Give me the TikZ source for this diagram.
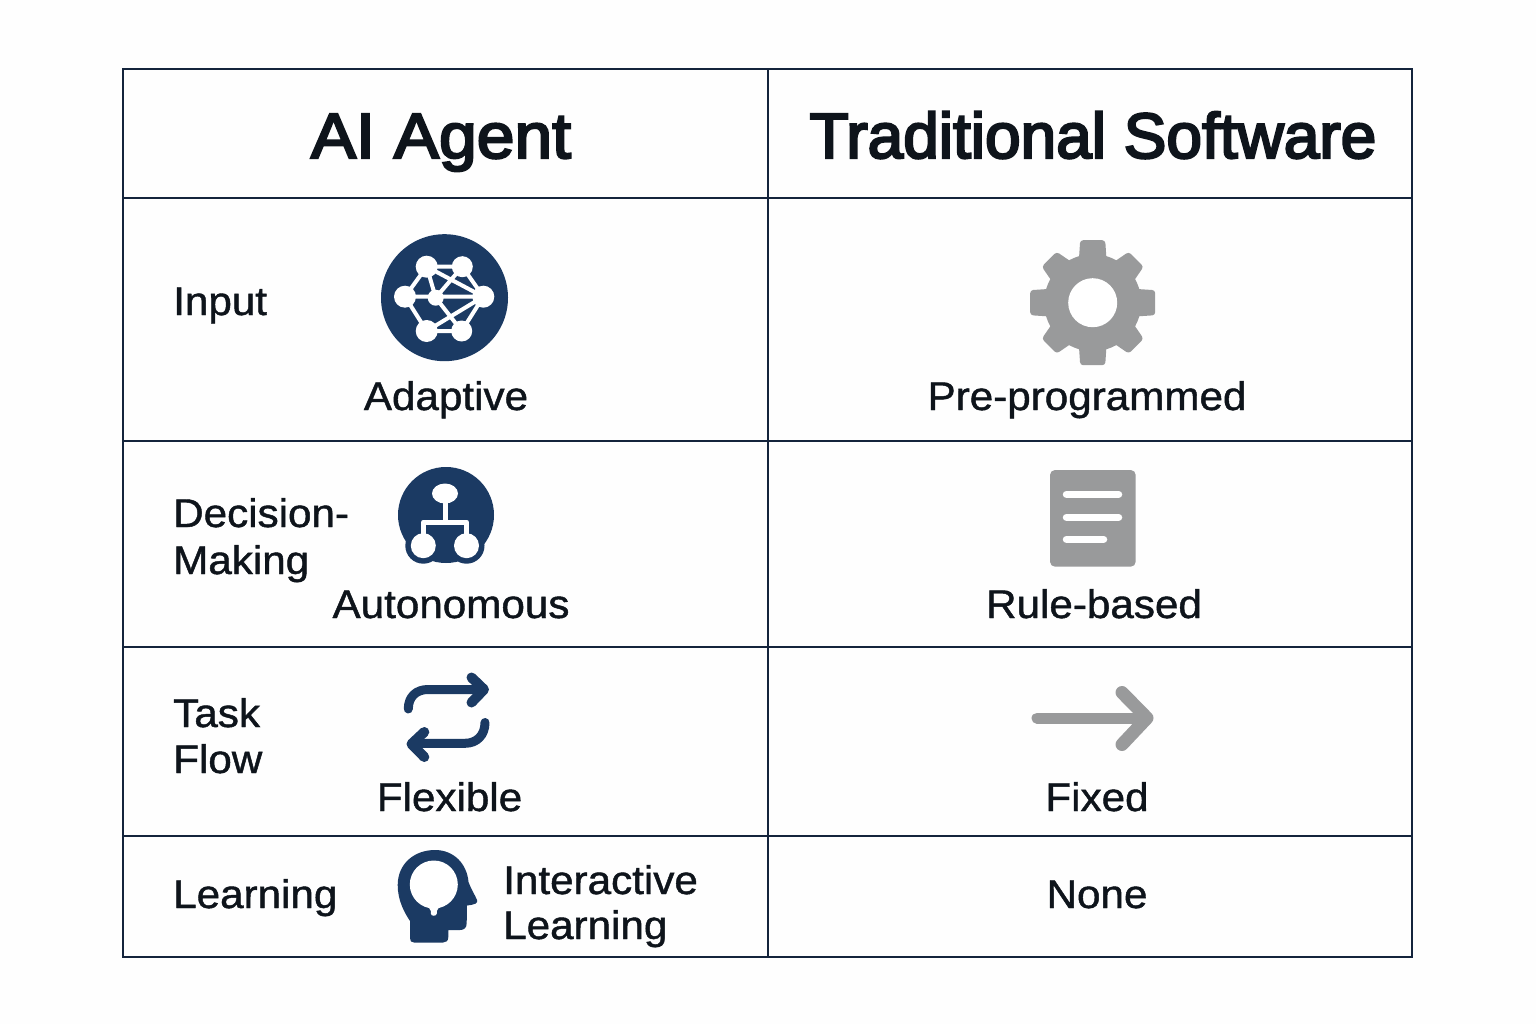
\documentclass[tikz,border=0pt]{standalone}
\usepackage{fontspec}
\setmainfont{Liberation Sans}
\definecolor{navy}{HTML}{1B3A63}
\definecolor{rule}{HTML}{14243C}
\definecolor{ink}{HTML}{0E141B}
\definecolor{steel}{HTML}{999A9B}
\definecolor{paper}{HTML}{FEFEFE}
\newfontfamily\bodyface[FakeBold=1.1,FakeStretch=1.055]{Liberation Sans}
\newfontfamily\headface[FakeBold=3.6]{Liberation Sans}
\newfontfamily\headwide[FakeBold=3.6,FakeStretch=1.06]{Liberation Sans}
\newcommand{\bodyfont}{\bodyface\fontsize{40}{46}\selectfont}
\newcommand{\headfont}{\headface\fontsize{64}{70}\selectfont}
\newcommand{\headwidefont}{\headwide\fontsize{64}{70}\selectfont}
\tikzset{
  x=1pt,y=-1pt,
  cellrule/.style={draw=rule,line width=1.2pt},
  head/.style={text=ink,font=\headfont,anchor=base,inner sep=0pt},
  headw/.style={head,font=\headwidefont},
  body/.style={text=ink,font=\bodyfont,anchor=base,inner sep=0pt},
  bodyl/.style={body,anchor=base west},
  netline/.style={draw=white,line width=4pt},
  netnode/.style={fill=white},
  navyline/.style={draw=navy,line width=9pt,line cap=round,line join=round},
  navyhead/.style={navyline,line width=10pt},
  greyline/.style={draw=steel,line width=11pt,line cap=round,line join=round},
  greyhead/.style={greyline,line width=13pt},
}
\begin{document}
\begin{tikzpicture}
\useasboundingbox (0,0) rectangle (1536,1024);
\fill[paper] (0,0) rectangle (1536,1024);
% table
\draw[cellrule] (123,69) rectangle (1412,957);
\foreach \yy in {198,441,647,836} \draw[cellrule] (123,\yy) -- (1412,\yy);
\draw[cellrule] (768,69) -- (768,957);
% headers
\node[headw] (hA) at (441,158) {AI Agent};
\node[head] (hT) at (1093,158) {Traditional Software};
% row labels
\node[bodyl] (input) at (173,315) {Input};
\node[body] (adaptive) at (446,410) {Adaptive};
\node[body] (preprog) at (1087,410) {Pre-programmed};
\node[bodyl] (dec) at (173,527) {Decision-};
\node[bodyl] (mak) at (173,574) {Making};
\node[body] (auton) at (451,618) {Autonomous};
\node[body] (rule) at (1094,618) {Rule-based};
\node[bodyl] (task) at (173,727) {Task};
\node[bodyl] (flow) at (173,773) {Flow};
\node[body] (flex) at (449.5,811) {Flexible};
\node[body] (fixed) at (1097,811) {Fixed};
\node[bodyl] (learn) at (173,908) {Learning};
\node[bodyl] (inter) at (503,894) {Interactive};
\node[bodyl] (learn2) at (503,939) {Learning};
\node[body] (none) at (1097,908) {None};
% network icon
\fill[navy] (444.5,297.7) circle (63.5);
\coordinate (n1) at (426.7,266.7);
\coordinate (n2) at (462.3,266.7);
\coordinate (n3) at (483.3,296.7);
\coordinate (n4) at (435.7,297.7);
\coordinate (n5) at (405,296.7);
\coordinate (n6) at (426.7,331);
\coordinate (n7) at (461.7,331);
\draw[netline] (n1)--(n2)--(n3)--(n7)--(n6)--(n5)--(n1);
\draw[netline] (n5)--(n3) (n1)--(n4) (n1)--(n3) (n2)--(n4) (n4)--(n7) (n6)--(n3);
\foreach \c/\r in {n1/11,n2/10.5,n3/11,n4/8,n5/11,n6/11,n7/10.5}
  \fill[netnode] (\c) circle (\r);
% decision icon
\fill[navy] (446,515) circle (48);
\fill[navy] (423.3,545.7) circle (18);
\fill[navy] (466.5,545.7) circle (18);
\fill[white] (423.3,545.7) circle (12.5);
\fill[white] (466.5,545.7) circle (12.5);
\fill[white] (432,493.5) .. controls (432,488) and (438,483.5) .. (445,483.5)
  .. controls (452,483.5) and (458,488) .. (458,493.5)
  .. controls (458,499) and (452,503.5) .. (445,503.5)
  .. controls (438,503.5) and (432,499) .. (432,493.5) -- cycle;
\draw[white,line width=5pt,line join=round] (445,500) -- (445,523);
\draw[white,line width=5pt,line join=round] (423.3,540) -- (423.3,522) -- (466.5,522) -- (466.5,540);
% flow icon
\draw[navyline] (408.3,709) .. controls (408.3,697) and (416,689.5) .. (428,689.5) -- (482,689.5);
\draw[navyhead] (471.5,677.5) -- (484,689.5) -- (471.5,702.5);
\draw[navyline] (485,722.5) .. controls (485,735) and (477,743.3) .. (465,743.3) -- (414,743.3);
\draw[navyhead] (424.3,732) -- (411.5,744) -- (424.3,757);
% head icon
\fill[navy] (410,938) -- (410,921) .. controls (404,912) and (397.7,900) .. (397.7,885)
  .. controls (397.7,864) and (414,850) .. (435,850)
  .. controls (454,850) and (467,864) .. (468.5,882)
  .. controls (471,889) and (475,895) .. (477,900)
  .. controls (478,903) and (476,904.5) .. (467,905.5)
  -- (466.7,923) .. controls (466.7,928) and (464,930) .. (460,930)
  -- (448.3,930) -- (448.3,937) .. controls (448.3,941) and (446,942.5) .. (443,942.5)
  -- (414,942.5) .. controls (411,942.5) and (410,941) .. (410,938) -- cycle;
\fill[white] (433.8,884.5) circle (24);
\fill[white] (424,905) .. controls (429,908) and (430.5,908) .. (430.8,911)
  -- (430.8,913.5) .. controls (431,916.5) and (436.6,916.5) .. (436.8,913.5)
  -- (436.8,911) .. controls (437,908) and (439,908) .. (444,905) -- cycle;
% gear icon
\begin{scope}[shift={(1092.7,302.7)}]
  \fill[steel] (0,0) circle (48.5);
  \foreach \ang in {0,90,180,270}
    \fill[steel,rotate=\ang,rounded corners=3pt] (40,-14) -- (62.5,-12.5) -- (62.5,12.5) -- (40,14) -- cycle;
  \foreach \ang in {45,135,225,315}
    \fill[steel,rotate=\ang,rounded corners=3pt] (40,-14.5) -- (61.5,-10.5) -- (61.5,10.5) -- (40,14.5) -- cycle;
  \fill[white] (0,0) circle (24.5);
\end{scope}
% document icon
\fill[steel,rounded corners=5pt] (1050,470) rectangle (1135.7,566.7);
\draw[white,line width=7.5pt,line cap=round] (1066.5,494.3) -- (1118.5,494.3);
\draw[white,line width=7.5pt,line cap=round] (1066.5,517.3) -- (1118.5,517.3);
\draw[white,line width=7.5pt,line cap=round] (1066.5,539.3) -- (1103.5,539.3);
% straight arrow icon
\draw[greyline] (1037,718) -- (1145,718);
\draw[greyhead] (1122,692.5) -- (1147,718) -- (1122,744.5);
\end{tikzpicture}
\end{document}
